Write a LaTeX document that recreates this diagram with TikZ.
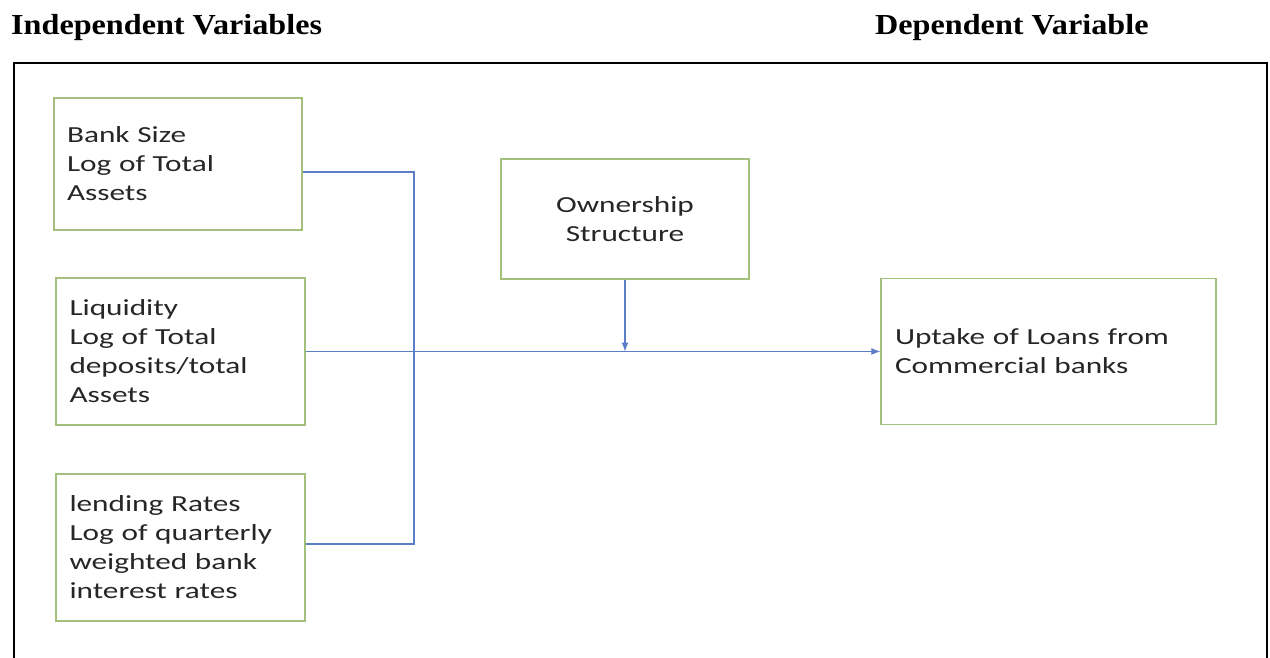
\documentclass[tikz,border=0pt]{standalone}
\usepackage{fontspec}
\setmainfont[FakeStretch=1.36]{Carlito}
\newfontfamily\titlefont[FakeStretch=1.11]{Liberation Serif}
\usetikzlibrary{arrows.meta}
\definecolor{boxgreen}{RGB}{165,192,125}
\definecolor{linkblue}{RGB}{92,125,200}
\definecolor{textgrey}{RGB}{38,38,38}

\begin{document}
\begin{tikzpicture}[x=1pt, y=-1pt,
    var/.style={draw=boxgreen, line width=1.3pt, rectangle, text=textgrey,
      font=\fontsize{23}{29}\selectfont, align=left, inner sep=0pt},
    heading/.style={anchor=base west, inner sep=0pt, font=\titlefont\bfseries\fontsize{29}{34}\selectfont},
    link/.style={draw=linkblue, line width=1.1pt},
    tip/.style={-{Latex[length=9pt,width=7pt]}}]
  \useasboundingbox (0,0) rectangle (1270,658);
  % headings and frame
  \node[heading] (indep) at (11,35) {Independent Variables};
  \node[heading] (dep) at (875,35) {Dependent Variable};
  \draw[line width=2pt] (14,662) -- (14,63) -- (1267,63) -- (1267,662);
  % independent variables
  \node[var, minimum width=248, minimum height=132, text width=222] (size) at (178,164)
    {Bank Size\\Log of Total\\Assets};
  \node[var, minimum width=249, minimum height=147, text width=222] (liq) at (180.5,351.5)
    {Liquidity\\Log of Total\\deposits/total\\Assets};
  \node[var, minimum width=249, minimum height=147, text width=222] (lend) at (180.5,547.5)
    {lending Rates\\Log of quarterly\\weighted bank\\interest rates};
  % moderator and dependent variable
  \node[var, minimum width=248, minimum height=120, align=center] (own) at (625,219)
    {Ownership\\Structure};
  \node[var, minimum width=335, minimum height=146, text width=307] (uptake) at (1048.5,351.5)
    {Uptake of Loans from\\Commercial banks};
  % connectors
  \coordinate (jbot) at (414,544);
  \draw[link] ([yshift=-8pt]size.east) -| (jbot) -- (lend.east |- jbot);
  \draw[link, tip] (liq.east) -- (uptake.west |- liq.east);
  \draw[link, tip] (own.south) -- (own.south |- liq.east);
\end{tikzpicture}
\end{document}
